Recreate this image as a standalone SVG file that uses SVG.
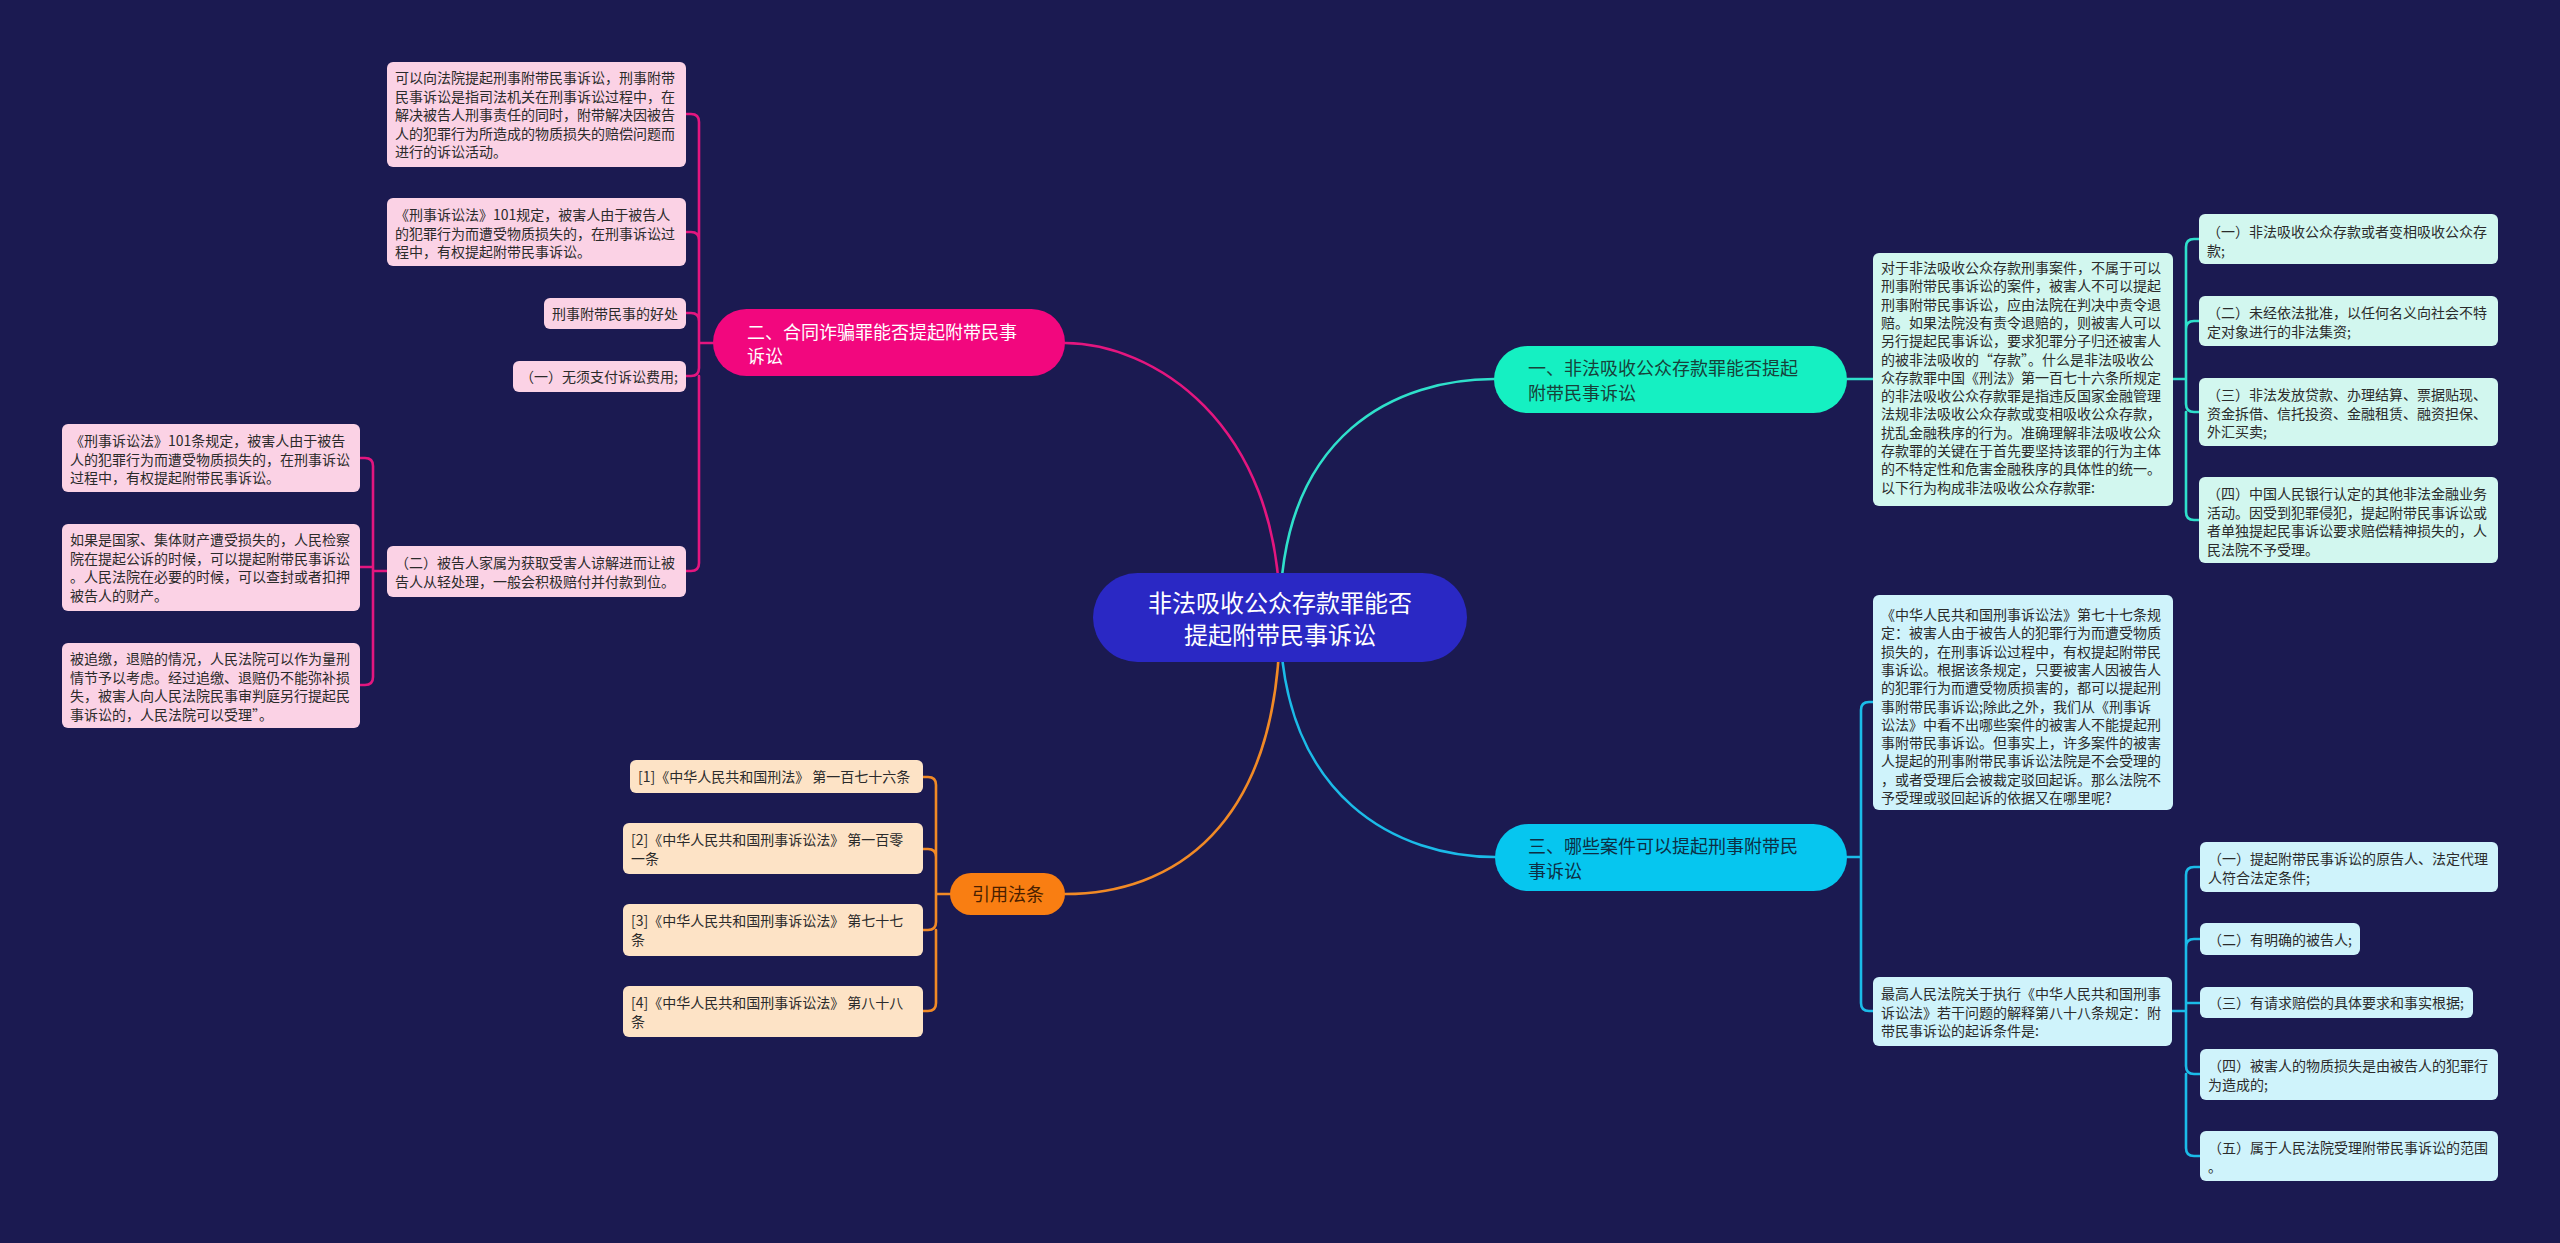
<svg xmlns="http://www.w3.org/2000/svg" width="2560" height="1243" viewBox="0 0 2560 1243">
<style>
text{font-family:"Noto Sans CJK SC","Noto Sans",sans-serif;}
.t14{font-size:14px;}
.dk{fill:#2b2b2b;}
.pl{fill:#fbd2e5;}
.ml{fill:#d2f7ef;}
.cl{fill:#cff3fb;}
.rl{fill:#fde3c6;}
.c{fill:none;stroke-width:2.6;stroke-linecap:round;stroke-linejoin:round;}
.cp{stroke:#e3167f;}
.cg{stroke:#2fe0cb;}
.cb{stroke:#1bbbe8;}
.co{stroke:#f18a26;}
</style>
<rect width="2560" height="1243" fill="#1b1a51"/>
<g id="connectors">
<path class="c cp" d="M1280 617 C1280 420 1150 343 1065 343"/>
<path class="c cg" d="M1280 617 C1280 430 1400 379 1494 379"/>
<path class="c cb" d="M1280 617 C1280 800 1400 857 1495 857"/>
<path class="c co" d="M1280 617 C1280 830 1170 894 1065 894"/>
<path class="c cp" d="M713 343 H699 V122 Q699 114 691 114 H686 M699 240 Q699 232 691 232 H686 M699 321 Q699 313 691 313 H686 M699 343 V368 Q699 376 691 376 H686 M699 376 V563 Q699 571 691 571 H686"/>
<path class="c cp" d="M387 571 H373 V466 Q373 458 365 458 H360 M373 567 H360 M373 571 V677 Q373 685 365 685 H360"/>
<path class="c co" d="M950 894 H936 V785 Q936 777 928 777 H923 M936 857 Q936 849 928 849 H923 M936 894 V922 Q936 930 928 930 H923 M936 930 V1003 Q936 1011 928 1011 H923"/>
<path class="c cg" d="M1847 379 H1873"/>
<path class="c cg" d="M2173 379 H2186 V247 Q2186 239 2194 239 H2199 M2186 329 Q2186 321 2194 321 H2199 M2186 379 V404 Q2186 412 2194 412 H2199 M2186 412 V512 Q2186 520 2194 520 H2199"/>
<path class="c cb" d="M1847 857 H1861 V710 Q1861 702 1869 702 H1873 M1861 857 V1003 Q1861 1011 1869 1011 H1873"/>
<path class="c cb" d="M2172 1011 H2186 V875 Q2186 867 2194 867 H2200 M2186 947 Q2186 939 2194 939 H2200 M2186 1003 H2200 M2186 1011 V1066 Q2186 1074 2194 1074 H2200 M2186 1074 V1148 Q2186 1156 2194 1156 H2200"/>
</g>
<g id="root">
<rect x="1093" y="573" width="374" height="89" rx="44.5" fill="#2a28c4"/>
<text x="1280" y="612" font-size="24" fill="#ffffff" text-anchor="middle">非法吸收公众存款罪能否</text>
<text x="1280" y="644" font-size="24" fill="#ffffff" text-anchor="middle">提起附带民事诉讼</text>
</g>
<g id="b2">
<rect x="713" y="309" width="352" height="67" rx="33.5" fill="#f2077e"/>
<text x="747" y="339" font-size="18" fill="#ffffff">二、合同诈骗罪能否提起附带民事</text>
<text x="747" y="363" font-size="18" fill="#ffffff">诉讼</text>
</g>
<g id="b1">
<rect x="1494" y="346" width="353" height="67" rx="33.5" fill="#15f0c2"/>
<text x="1528" y="375" font-size="18" fill="#17423a">一、非法吸收公众存款罪能否提起</text>
<text x="1528" y="400" font-size="18" fill="#17423a">附带民事诉讼</text>
</g>
<g id="b3">
<rect x="1495" y="824" width="352" height="67" rx="33.5" fill="#06c6ef"/>
<text x="1528" y="853" font-size="18" fill="#0d2f45">三、哪些案件可以提起刑事附带民</text>
<text x="1528" y="878" font-size="18" fill="#0d2f45">事诉讼</text>
</g>
<g id="b4">
<rect x="950" y="873" width="115" height="42" rx="21" fill="#f97e12"/>
<text x="1008" y="901" font-size="18" fill="#4a1f00" text-anchor="middle">引用法条</text>
</g>
<g id="l1">
<rect class="pl" x="387" y="62" width="299" height="105" rx="6"/>
<text class="t14 dk" x="395"><tspan x="395" y="83">可以向法院提起刑事附带民事诉讼，刑事附带</tspan><tspan x="395" y="101.5">民事诉讼是指司法机关在刑事诉讼过程中，在</tspan><tspan x="395" y="120">解决被告人刑事责任的同时，附带解决因被告</tspan><tspan x="395" y="138.5">人的犯罪行为所造成的物质损失的赔偿问题而</tspan><tspan x="395" y="157">进行的诉讼活动。</tspan></text>
</g>
<g id="l2">
<rect class="pl" x="387" y="198" width="299" height="68" rx="6"/>
<text class="t14 dk"><tspan x="395" y="220">《刑事诉讼法》101规定，被害人由于被告人</tspan><tspan x="395" y="238.5">的犯罪行为而遭受物质损失的，在刑事诉讼过</tspan><tspan x="395" y="257">程中，有权提起附带民事诉讼。</tspan></text>
</g>
<g id="l3">
<rect class="pl" x="544" y="298" width="142" height="31" rx="6"/>
<text class="t14 dk" x="678" y="319" text-anchor="end">刑事附带民事的好处</text>
</g>
<g id="l4">
<rect class="pl" x="513" y="361" width="173" height="31" rx="6"/>
<text class="t14 dk" x="678" y="382" text-anchor="end">（一）无须支付诉讼费用;</text>
</g>
<g id="l5">
<rect class="pl" x="387" y="546" width="299" height="51" rx="6"/>
<text class="t14 dk"><tspan x="395" y="568">（二）被告人家属为获取受害人谅解进而让被</tspan><tspan x="395" y="586.5">告人从轻处理，一般会积极赔付并付款到位。</tspan></text>
</g>
<g id="c1">
<rect class="pl" x="62" y="424" width="298" height="68" rx="6"/>
<text class="t14 dk"><tspan x="70" y="446">《刑事诉讼法》101条规定，被害人由于被告</tspan><tspan x="70" y="464.5">人的犯罪行为而遭受物质损失的，在刑事诉讼</tspan><tspan x="70" y="483">过程中，有权提起附带民事诉讼。</tspan></text>
</g>
<g id="c2">
<rect class="pl" x="62" y="524" width="298" height="87" rx="6"/>
<text class="t14 dk"><tspan x="70" y="545">如果是国家、集体财产遭受损失的，人民检察</tspan><tspan x="70" y="563.5">院在提起公诉的时候，可以提起附带民事诉讼</tspan><tspan x="70" y="582">。人民法院在必要的时候，可以查封或者扣押</tspan><tspan x="70" y="600.5">被告人的财产。</tspan></text>
</g>
<g id="c3">
<rect class="pl" x="62" y="643" width="298" height="85" rx="6"/>
<text class="t14 dk"><tspan x="70" y="664">被追缴，退赔的情况，人民法院可以作为量刑</tspan><tspan x="70" y="682.5">情节予以考虑。经过追缴、退赔仍不能弥补损</tspan><tspan x="70" y="701">失，被害人向人民法院民事审判庭另行提起民</tspan><tspan x="70" y="719.5">事诉讼的，人民法院可以受理”。</tspan></text>
</g>
<g id="r1">
<rect class="rl" x="630" y="760" width="293" height="33" rx="6"/>
<text class="t14 dk" x="638" y="782">[1]《中华人民共和国刑法》 第一百七十六条</text>
</g>
<g id="r2">
<rect class="rl" x="623" y="823" width="300" height="51" rx="6"/>
<text class="t14 dk"><tspan x="631" y="845">[2]《中华人民共和国刑事诉讼法》 第一百零</tspan><tspan x="631" y="863.5">一条</tspan></text>
</g>
<g id="r3">
<rect class="rl" x="623" y="904" width="300" height="52" rx="6"/>
<text class="t14 dk"><tspan x="631" y="926">[3]《中华人民共和国刑事诉讼法》 第七十七</tspan><tspan x="631" y="944.5">条</tspan></text>
</g>
<g id="r4">
<rect class="rl" x="623" y="986" width="300" height="51" rx="6"/>
<text class="t14 dk"><tspan x="631" y="1008">[4]《中华人民共和国刑事诉讼法》 第八十八</tspan><tspan x="631" y="1026.5">条</tspan></text>
</g>
<g id="a1">
<rect class="ml" x="1873" y="253" width="300" height="253" rx="6"/>
<text class="t14 dk"><tspan x="1881" y="273">对于非法吸收公众存款刑事案件，不属于可以</tspan><tspan x="1881" y="291.3">刑事附带民事诉讼的案件，被害人不可以提起</tspan><tspan x="1881" y="309.6">刑事附带民事诉讼，应由法院在判决中责令退</tspan><tspan x="1881" y="327.9">赔。如果法院没有责令退赔的，则被害人可以</tspan><tspan x="1881" y="346.2">另行提起民事诉讼，要求犯罪分子归还被害人</tspan><tspan x="1881" y="364.5">的被非法吸收的“存款”。什么是非法吸收公</tspan><tspan x="1881" y="382.8">众存款罪中国《刑法》第一百七十六条所规定</tspan><tspan x="1881" y="401.1">的非法吸收公众存款罪是指违反国家金融管理</tspan><tspan x="1881" y="419.4">法规非法吸收公众存款或变相吸收公众存款，</tspan><tspan x="1881" y="437.7">扰乱金融秩序的行为。准确理解非法吸收公众</tspan><tspan x="1881" y="456">存款罪的关键在于首先要坚持该罪的行为主体</tspan><tspan x="1881" y="474.3">的不特定性和危害金融秩序的具体性的统一。</tspan><tspan x="1881" y="492.6">以下行为构成非法吸收公众存款罪:</tspan></text>
</g>
<g id="n-b1">
<rect class="ml" x="2199" y="214" width="299" height="50" rx="6"/>
<text class="t14 dk"><tspan x="2207" y="237">（一）非法吸收公众存款或者变相吸收公众存</tspan><tspan x="2207" y="255.5">款;</tspan></text>
</g>
<g id="n-b2">
<rect class="ml" x="2199" y="296" width="299" height="50" rx="6"/>
<text class="t14 dk"><tspan x="2207" y="318">（二）未经依法批准，以任何名义向社会不特</tspan><tspan x="2207" y="336.5">定对象进行的非法集资;</tspan></text>
</g>
<g id="n-b3">
<rect class="ml" x="2199" y="378" width="299" height="68" rx="6"/>
<text class="t14 dk"><tspan x="2207" y="400">（三）非法发放贷款、办理结算、票据贴现、</tspan><tspan x="2207" y="418.5">资金拆借、信托投资、金融租赁、融资担保、</tspan><tspan x="2207" y="437">外汇买卖;</tspan></text>
</g>
<g id="n-b4">
<rect class="ml" x="2199" y="477" width="299" height="86" rx="6"/>
<text class="t14 dk"><tspan x="2207" y="499">（四）中国人民银行认定的其他非法金融业务</tspan><tspan x="2207" y="517.5">活动。因受到犯罪侵犯，提起附带民事诉讼或</tspan><tspan x="2207" y="536">者单独提起民事诉讼要求赔偿精神损失的，人</tspan><tspan x="2207" y="554.5">民法院不予受理。</tspan></text>
</g>
<g id="d1">
<rect class="cl" x="1873" y="595" width="300" height="215" rx="6"/>
<text class="t14 dk"><tspan x="1881" y="620">《中华人民共和国刑事诉讼法》第七十七条规</tspan><tspan x="1881" y="638.3">定：被害人由于被告人的犯罪行为而遭受物质</tspan><tspan x="1881" y="656.6">损失的，在刑事诉讼过程中，有权提起附带民</tspan><tspan x="1881" y="674.9">事诉讼。根据该条规定，只要被害人因被告人</tspan><tspan x="1881" y="693.2">的犯罪行为而遭受物质损害的，都可以提起刑</tspan><tspan x="1881" y="711.5">事附带民事诉讼;除此之外，我们从《刑事诉</tspan><tspan x="1881" y="729.8">讼法》中看不出哪些案件的被害人不能提起刑</tspan><tspan x="1881" y="748.1">事附带民事诉讼。但事实上，许多案件的被害</tspan><tspan x="1881" y="766.4">人提起的刑事附带民事诉讼法院是不会受理的</tspan><tspan x="1881" y="784.7">，或者受理后会被裁定驳回起诉。那么法院不</tspan><tspan x="1881" y="803">予受理或驳回起诉的依据又在哪里呢?</tspan></text>
</g>
<g id="d2">
<rect class="cl" x="1873" y="977" width="299" height="69" rx="6"/>
<text class="t14 dk"><tspan x="1881" y="999">最高人民法院关于执行《中华人民共和国刑事</tspan><tspan x="1881" y="1017.5">诉讼法》若干问题的解释第八十八条规定：附</tspan><tspan x="1881" y="1036">带民事诉讼的起诉条件是:</tspan></text>
</g>
<g id="e1">
<rect class="cl" x="2200" y="842" width="298" height="50" rx="6"/>
<text class="t14 dk"><tspan x="2208" y="864">（一）提起附带民事诉讼的原告人、法定代理</tspan><tspan x="2208" y="882.5">人符合法定条件;</tspan></text>
</g>
<g id="e2">
<rect class="cl" x="2200" y="923" width="160" height="32" rx="6"/>
<text class="t14 dk" x="2208" y="945">（二）有明确的被告人;</text>
</g>
<g id="e3">
<rect class="cl" x="2200" y="987" width="273" height="31" rx="6"/>
<text class="t14 dk" x="2208" y="1008">（三）有请求赔偿的具体要求和事实根据;</text>
</g>
<g id="e4">
<rect class="cl" x="2200" y="1049" width="298" height="51" rx="6"/>
<text class="t14 dk"><tspan x="2208" y="1071">（四）被害人的物质损失是由被告人的犯罪行</tspan><tspan x="2208" y="1089.5">为造成的;</tspan></text>
</g>
<g id="e5">
<rect class="cl" x="2200" y="1131" width="298" height="50" rx="6"/>
<text class="t14 dk"><tspan x="2208" y="1153">（五）属于人民法院受理附带民事诉讼的范围</tspan><tspan x="2208" y="1171.5">。</tspan></text>
</g>
</svg>
